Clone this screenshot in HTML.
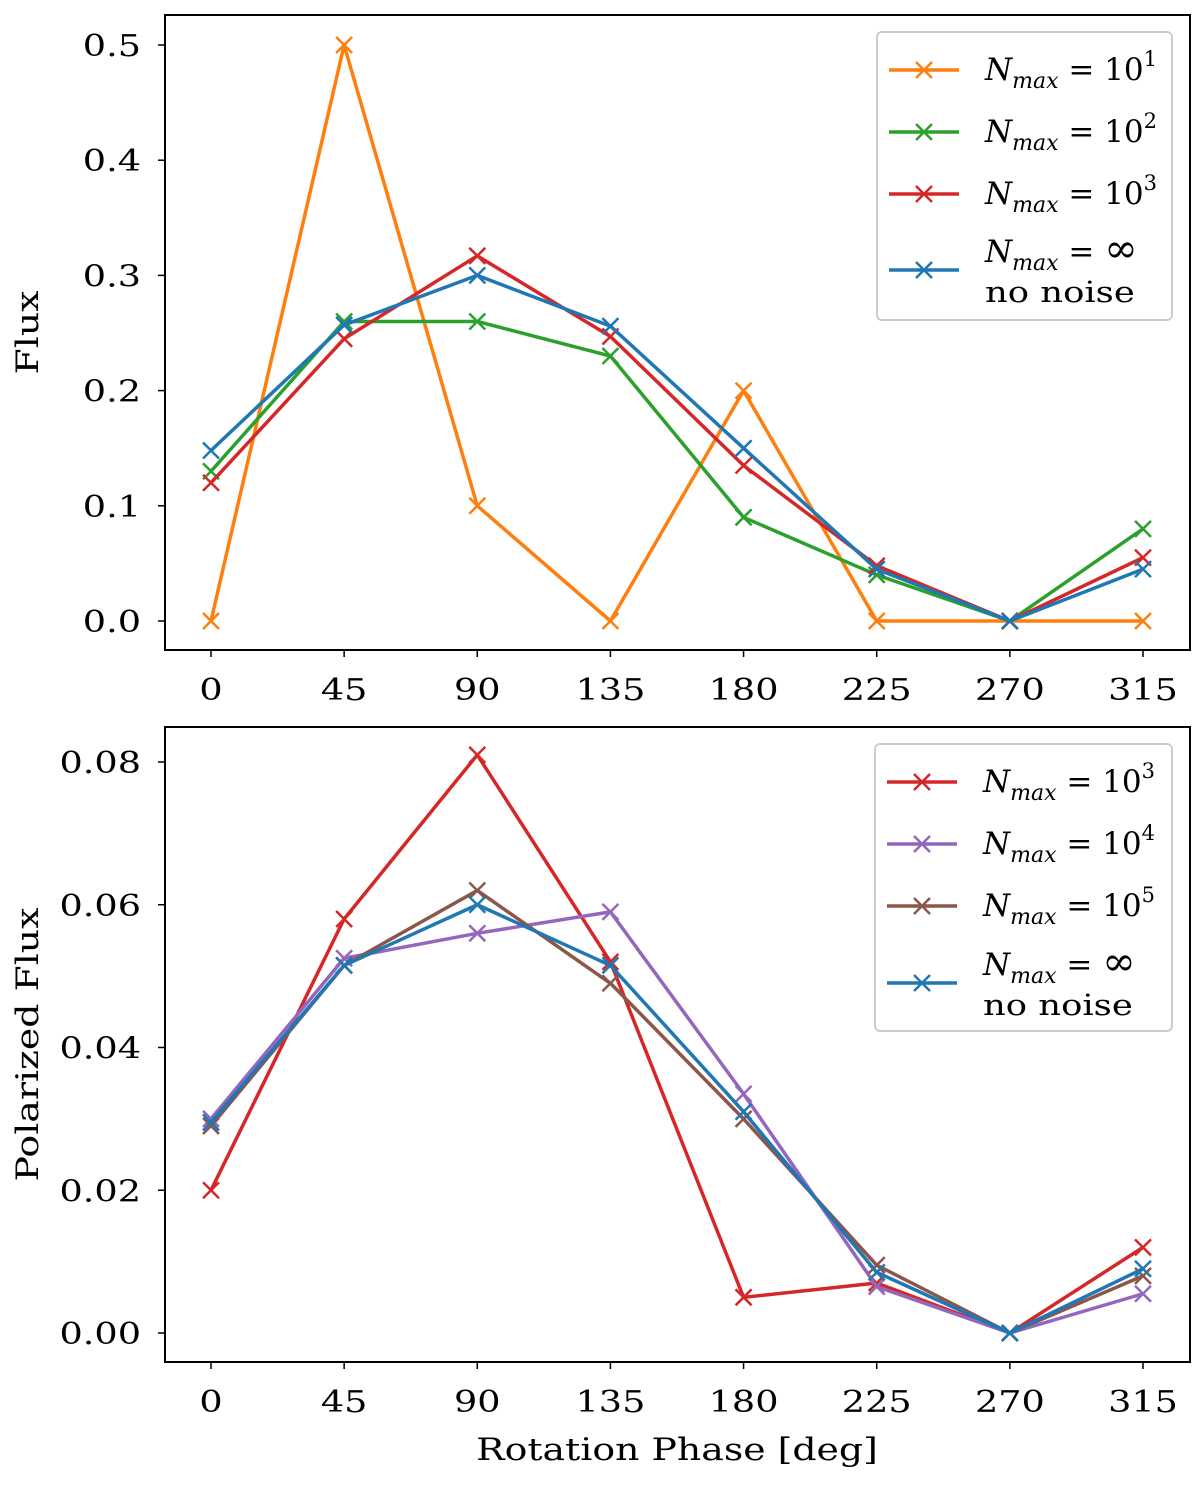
<!DOCTYPE html>
<html><head><meta charset="utf-8"><style>
body{margin:0;background:#fff;}
svg{display:block;font-family:"DejaVu Serif","Liberation Serif",serif;}
</style></head><body>
<svg id="chart" width="1200" height="1487" viewBox="0 0 1200 1487" xmlns="http://www.w3.org/2000/svg"></svg>
<script>
const phases=[0,45,90,135,180,225,270,315];
const topTicks=[0,0.1,0.2,0.3,0.4,0.5];
const botTicks=[0,0.02,0.04,0.06,0.08];
const topOrange=[0,0.5,0.1,0,0.2,0,0,0];
const topGreen=[0.13,0.26,0.26,0.23,0.09,0.04,0,0.08];
const topRed=[0.12,0.245,0.317,0.247,0.135,0.048,0,0.055];
const topBlue=[0.148,0.257,0.30,0.256,0.15,0.045,0,0.045];
const botRed=[0.020,0.058,0.081,0.052,0.005,0.007,0,0.012];
const botPurple=[0.030,0.0525,0.056,0.059,0.0335,0.0065,0,0.0055];
const botBrown=[0.029,0.0515,0.062,0.049,0.030,0.0095,0,0.008];
const botBlue=[0.0295,0.0515,0.060,0.0515,0.031,0.0085,0,0.009];

const NS="http://www.w3.org/2000/svg";
const svg=document.getElementById('chart');
function mk(tag,attrs,parent){const e=document.createElementNS(NS,tag);for(const k in attrs)e.setAttribute(k,attrs[k]);(parent||svg).appendChild(e);return e;}
function txt(x,y,s,anchor,size,parent,rot){
  const t=mk('text',{x:0,y:0,'text-anchor':anchor,'font-size':size,transform:`translate(${x},${y})${rot?' rotate(-90)':''} scale(1.22,1)`},parent);
  t.textContent=s;return t;
}
const xS=v=>211+(v/315)*(1143-211);

function panel(name,top,bottom,y0px,yTopPx,yTopVal,ticks,fmt,series,legend,ylabel,legBox){
  const g=mk('g',{});
  
  
  const yS=v=>y0px+(v/yTopVal)*(yTopPx-y0px);
  ticks.forEach(t=>{
    const y=yS(t);
    mk('line',{x1:158,x2:165,y1:y,y2:y,stroke:'#000','stroke-width':1.5},g);
    const tx=txt(141,y+11,fmt(t),'end',30,g);
    
    
  });
  phases.forEach(p=>{
    const x=xS(p);
    mk('line',{x1:x,x2:x,y1:bottom,y2:bottom+7,stroke:'#000','stroke-width':1.5},g);
    const tx=txt(x,bottom+50,String(p),'middle',30,g);
    
    
  });
  series.forEach(s=>{
    const sg=mk('g',{},g);
    
    
    const pts=s.data.map((v,i)=>xS(phases[i])+','+yS(v)).join(' ');
    mk('polyline',{points:pts,fill:'none',stroke:s.color,'stroke-width':3.5,'stroke-linejoin':'round'},sg);
    s.data.forEach((v,i)=>{
      const x=xS(phases[i]),y=yS(v),d=8;
      mk('path',{d:`M${x-d},${y-d}L${x+d},${y+d}M${x-d},${y+d}L${x+d},${y-d}`,stroke:s.color,'stroke-width':2.5},sg);
    });
  });
  mk('rect',{x:165,y:top,width:1025,height:bottom-top,fill:'none',stroke:'#000','stroke-width':2},g);
  const yl=txt(38,(top+bottom)/2,ylabel,'middle',31,g,true);
  
  
  const lg=mk('g',{},g);
  
  
  mk('rect',{x:legBox[0],y:legBox[1],width:legBox[2],height:legBox[3],rx:5,fill:'#fff',stroke:'#ccc','stroke-width':2},lg);
  legend.forEach(l=>{
    const eg=mk('g',{},lg);
    
    
    const lx=legBox[0]+12,y=l.y;
    mk('line',{x1:lx,x2:lx+70,y1:y,y2:y,stroke:l.color,'stroke-width':3.5},eg);
    mk('path',{d:`M${lx+27},${y-8}L${lx+43},${y+8}M${lx+27},${y+8}L${lx+43},${y-8}`,stroke:l.color,'stroke-width':2.5},eg);
    const ty=l.exp===null?y-8:y+10;
    const t=mk('text',{x:lx+96,y:ty,'font-size':31},eg);
    t.innerHTML=`<tspan font-style="italic">N</tspan><tspan font-style="italic" font-size="22" dy="8">max</tspan><tspan dy="-8"> = ${l.exp===null?'':'10'}</tspan>`+(l.exp===null?'<tspan font-size="40">∞</tspan>':`<tspan font-size="21" dy="-14">${l.exp}</tspan>`);
    if(l.exp===null){const t2=txt(lx+96,y+32,'no noise','start',29,eg);}
  });
}
panel('top',15,650,621,45,0.5,topTicks,t=>t.toFixed(1),[
  {name:'series-nmax-10',color:'#ff7f0e',data:topOrange},
  {name:'series-nmax-100',color:'#2ca02c',data:topGreen},
  {name:'series-nmax-1000',color:'#d62728',data:topRed},
  {name:'series-no-noise',color:'#1f77b4',data:topBlue}],
  [{y:70,color:'#ff7f0e',exp:1},{y:132,color:'#2ca02c',exp:2},{y:194,color:'#d62728',exp:3},{y:270,color:'#1f77b4',exp:null}],
  'Flux',[877,32,295,288]);
panel('bottom',727,1362,1333,762,0.08,botTicks,t=>t.toFixed(2),[
  {name:'series-nmax-1000',color:'#d62728',data:botRed},
  {name:'series-nmax-10000',color:'#9467bd',data:botPurple},
  {name:'series-nmax-100000',color:'#8c564b',data:botBrown},
  {name:'series-no-noise',color:'#1f77b4',data:botBlue}],
  [{y:782,color:'#d62728',exp:3},{y:844,color:'#9467bd',exp:4},{y:906,color:'#8c564b',exp:5},{y:983,color:'#1f77b4',exp:null}],
  'Polarized Flux',[875,744,297,287]);
const xl=txt(677,1460,'Rotation Phase [deg]','middle',31);


</script>
</body></html>
